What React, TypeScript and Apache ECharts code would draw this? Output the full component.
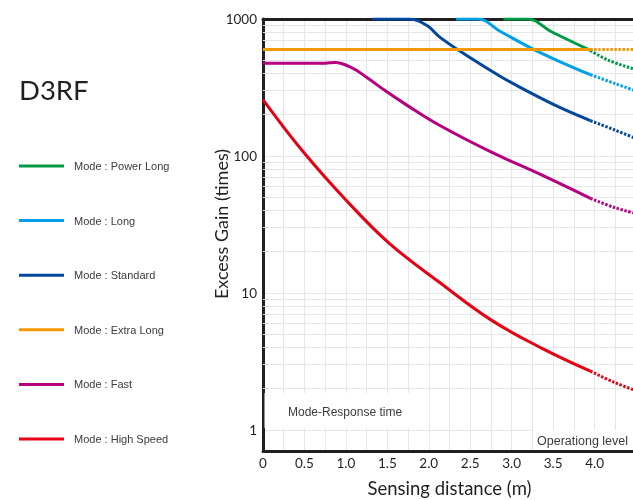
import { useEffect, useRef } from 'react';
import * as echarts from 'echarts';

const seriesNames = [
  'Mode : Power Long',
  'Mode : Long',
  'Mode : Standard',
  'Mode : Extra Long',
  'Mode : Fast',
  'Mode : High Speed',
];
const seriesColors = ['#009944', '#00a0e9', '#00479d', '#f39800', '#b5007f', '#e60012'];

// [distance (m), excess gain (times)]
const powerLongSolid = [[2.9, 1000], [3.19, 1000], [3.48, 807], [3.95, 590]];
const powerLongDotted = [[3.95, 590], [4.16, 502], [4.5, 427]];

const longSolid = [[2.33, 1000], [2.59, 1000], [2.87, 807], [3.24, 611], [3.6, 483], [3.95, 392]];
const longDotted = [[3.95, 392], [4.24, 339], [4.5, 298]];

const standardSolid = [
  [1.32, 1000], [1.76, 1000], [1.97, 903], [2.14, 731], [2.51, 516], [2.87, 379],
  [3.24, 286], [3.6, 223], [3.95, 181],
];
const standardDotted = [[3.95, 181], [4.24, 155], [4.5, 134]];

const extraLongSolid = [[0, 600], [3.95, 600]];
const extraLongDotted = [[3.95, 600], [4.5, 600]];

const fastSolid = [
  [0, 475], [0.75, 476], [0.87, 482], [1.08, 437], [1.24, 379], [1.49, 295],
  [1.73, 236], [2.14, 166], [2.75, 107], [3.36, 72.6], [3.95, 49],
];
const fastDotted = [[3.95, 49], [4.24, 42], [4.5, 38]];

const highSpeedSolid = [
  [0, 258], [0.47, 110], [1.0, 47.7], [1.52, 23.1], [2.14, 11.8], [2.75, 6.35],
  [3.36, 3.95], [3.95, 2.68],
];
const highSpeedDotted = [[3.95, 2.68], [4.24, 2.22], [4.5, 1.93]];

const solidData = [powerLongSolid, longSolid, standardSolid, extraLongSolid, fastSolid, highSpeedSolid];
const dottedData = [powerLongDotted, longDotted, standardDotted, extraLongDotted, fastDotted, highSpeedDotted];

// draw order (orange on top)
const drawOrder = [0, 1, 2, 4, 5, 3];

const yMinorGridValues = [2, 3, 4, 5, 6, 7, 8, 9, 20, 30, 40, 50, 60, 70, 80, 90, 200, 300, 400, 500, 600, 700, 800, 900];

const INK = '#231f20';
const GRID = '#e6e6e6';

export default function App() {
  const ref = useRef<HTMLDivElement>(null);

  useEffect(() => {
    if (!ref.current) return;
    const chart = echarts.init(ref.current, undefined, { renderer: 'svg' });

    const lineSeries: any[] = [];
    drawOrder.forEach((i) => {
      const base = {
        type: 'line',
        name: seriesNames[i],
        xAxisIndex: 0,
        yAxisIndex: 0,
        smooth: 0.4,
        symbol: 'none',
        showSymbol: false,
        silent: true,
        clip: true,
        z: 3,
        itemStyle: { color: seriesColors[i] },
      };
      lineSeries.push({ ...base, data: solidData[i], lineStyle: { width: 3, color: seriesColors[i] } });
      lineSeries.push({ ...base, data: dottedData[i], lineStyle: { width: 3, color: seriesColors[i], type: [2.4, 1.6] } });
    });

    const option: any = {
      animation: false,
      textStyle: { fontFamily: 'Lato' },
      title: {
        text: 'D3RF',
        left: 19,
        top: 75,
        padding: 0,
        textStyle: { fontSize: 27.5, fontWeight: 'normal', color: INK, fontFamily: 'Lato' },
      },
      legend: {
        orient: 'vertical',
        left: 19,
        top: 159,
        padding: 0,
        icon: 'rect',
        itemWidth: 45,
        itemHeight: 3,
        itemGap: 40.6,
        selectedMode: false,
        data: seriesNames,
        textStyle: { fontSize: 11, lineHeight: 14, color: '#3e3a39', fontFamily: 'Liberation Sans', padding: [0, 0, 0, 5] },
      },
      grid: { left: 263, right: -3, top: 19, bottom: 49, outerBoundsMode: 'none', containLabel: false },
      xAxis: [
        {
          type: 'value',
          min: 0,
          max: 4.5,
          interval: 0.25,
          name: 'Sensing distance (m)',
          nameLocation: 'middle',
          nameGap: 27,
          nameMoveOverlap: false,
          nameTextStyle: { fontSize: 18.5, color: INK, fontFamily: 'Lato' },
          axisLine: { show: true, onZero: false, lineStyle: { color: INK, width: 3 } },
          axisTick: { show: false },
          splitLine: { show: true, lineStyle: { color: GRID, width: 1 } },
          axisLabel: {
            fontSize: 13.5,
            color: INK,
            margin: 5,
            fontFamily: 'Lato',
            formatter: (v: number) => {
              const r = Math.round(v * 100) / 100;
              if (r === 0) return '0';
              if (Math.abs(r * 2 - Math.round(r * 2)) < 1e-6 && r < 4.4) return r.toFixed(1);
              return '';
            },
          },
        },
        {
          type: 'value',
          position: 'top',
          min: 0,
          max: 4.5,
          axisLine: { show: true, onZero: false, lineStyle: { color: INK, width: 3 } },
          axisTick: { show: false },
          axisLabel: { show: false },
          splitLine: { show: false },
        },
      ],
      yAxis: {
        type: 'log',
        logBase: 10,
        min: 0.7,
        max: 1000,
        name: 'Excess Gain (times)',
        nameLocation: 'middle',
        nameGap: 33,
        nameMoveOverlap: false,
        nameRotate: 90,
        nameTextStyle: { fontSize: 18, color: INK, fontFamily: 'Lato', padding: [0, 0, 0, 22] },
        axisLine: { show: true, onZero: false, lineStyle: { color: INK, width: 3 } },
        axisTick: { show: false },
        splitLine: { show: true, lineStyle: { color: GRID, width: 1 } },
        axisLabel: {
          fontSize: 13.5,
          color: INK,
          margin: 6,
          fontFamily: 'Lato',
          showMinLabel: false,
          formatter: (v: number) => String(Math.round(v)),
        },
      },
      graphic: [
        { type: 'rect', z: 10, shape: { x: 264.5, y: 393, width: 160, height: 35 }, style: { fill: '#fff' } },
        {
          type: 'text', z: 11, x: 288, y: 412,
          style: { text: 'Mode-Response time', fontSize: 12, fill: '#3e3a39', fontFamily: 'Liberation Sans', verticalAlign: 'middle' },
        },
        { type: 'rect', z: 10, shape: { x: 533, y: 430, width: 103, height: 19.5 }, style: { fill: '#fff' } },
        {
          type: 'text', z: 11, x: 537, y: 441,
          style: { text: 'Operationg level', fontSize: 12.5, fill: '#3e3a39', fontFamily: 'Liberation Sans', verticalAlign: 'middle' },
        },
      ],
      series: [
        {
          type: 'line',
          data: [],
          silent: true,
          z: 1,
          markLine: {
            silent: true,
            z: 1,
            symbol: ['none', 'none'],
            label: { show: false },
            lineStyle: { color: GRID, type: 'solid', width: 1 },
            data: yMinorGridValues.map((v) => ({ yAxis: v })),
          },
        },
        ...lineSeries,
      ],
    };

    chart.setOption(option);
    return () => chart.dispose();
  }, []);

  return <div ref={ref} style={{ position: 'fixed', left: 0, top: 0, width: 633, height: 500 }} />;
}
